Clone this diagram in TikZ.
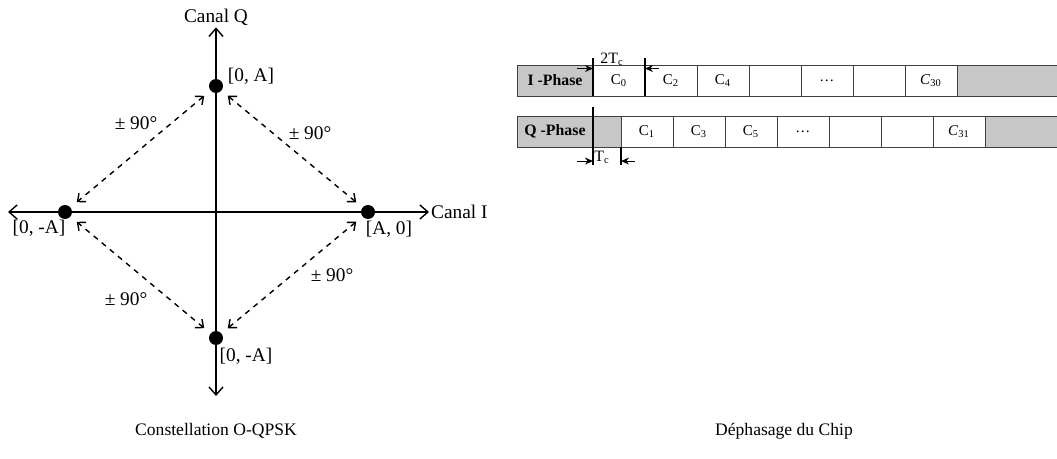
\documentclass[tikz,border=0pt]{standalone}
\usepackage{fontspec}
\setmainfont{Liberation Serif}
\usetikzlibrary{arrows.meta,positioning}

\begin{document}
\begin{tikzpicture}[x=0.02cm, y=-0.02cm,
    pt/.style={circle, fill=black, inner sep=0pt, minimum size=0.28cm},
    lbl/.style={font=\fontsize{11}{13}\selectfont, inner sep=1pt},
    caption/.style={font=\fontsize{10}{12}\selectfont},
    swing/.style={{Straight Barb[length=1.3mm, width=2.2mm]}-{Straight Barb[length=1.3mm, width=2.2mm]}, dashed, thick, shorten <=4.5pt, shorten >=4.5pt},
    axis/.style={{Straight Barb[length=1.6mm, width=2.8mm]}-{Straight Barb[length=1.6mm, width=2.8mm]}, thick},
    cell/.style={rectangle, draw=black!75, fill=white, minimum width=1.04cm, minimum height=0.62cm, inner sep=0pt, outer sep=0pt, font=\fontsize{8.5}{10}\selectfont, anchor=west},
    shade/.style={cell, fill=black!22},
    phase/.style={shade, minimum width=1.52cm, font=\bfseries\fontsize{9}{10}\selectfont},
    dim/.style={-{Stealth[length=1.6mm, width=1.4mm]}, semithick},
    tick/.style={thick},
    small/.style={font=\fontsize{9}{10}\selectfont, inner sep=0pt}]

    \useasboundingbox (0,0) rectangle (1057,459);

    % constellation
    \node[pt] (top) at (216,86) {};
    \node[pt] (right) at (368,212) {};
    \node[pt] (left) at (65,212) {};
    \node[pt] (bottom) at (216,338) {};

    \node[lbl] (canalq) at (216,17) {Canal Q};
    \node[lbl, anchor=west] (canali) at (429,212) {Canal I};
    \coordinate (qend) at (216,396);
    \coordinate (iend) at (8,212);
    \draw[axis] (qend) -- (canalq.south);
    \draw[axis] (iend) -- (canali.west);

    \node[lbl] (ltop) at (251,76) {[0, A]};
    \node[lbl] (lright) at (389,229) {[A, 0]};
    \node[lbl] (lleft) at (39,228) {[0, -A]};
    \node[lbl] (lbottom) at (246,356) {[0, -A]};

    \draw[swing] (top) -- (right);
    \draw[swing] (top) -- (left);
    \draw[swing] (bottom) -- (right);
    \draw[swing] (bottom) -- (left);

    \node[lbl] (a1) at (136,123) {± 90°};
    \node[lbl] (a2) at (310,133) {± 90°};
    \node[lbl] (a3) at (126,299) {± 90°};
    \node[lbl] (a4) at (332,275) {± 90°};

    \node[caption] (capl) at (216,431) {Constellation O-QPSK};

    % chips
    \node[phase] (iphase) at (517,80.5) {I -Phase};
    \node[cell, right=0pt of iphase] (c0) {C\textsubscript{0}};
    \node[cell, right=0pt of c0] (c2) {C\textsubscript{2}};
    \node[cell, right=0pt of c2] (c4) {C\textsubscript{4}};
    \node[cell, right=0pt of c4] (ie1) {};
    \node[cell, right=0pt of ie1] (idots) {\dots};
    \node[cell, right=0pt of idots] (ie2) {};
    \node[cell, right=0pt of ie2] (c30) {\textit{C}\textsubscript{30}};
    \node[shade, minimum width=2cm, right=0pt of c30] (itail) {};

    \node[phase] (qphase) at (517,131.5) {Q -Phase};
    \node[shade, minimum width=0.56cm, right=0pt of qphase] (qdelay) {};
    \node[cell, right=0pt of qdelay] (c1) {C\textsubscript{1}};
    \node[cell, right=0pt of c1] (c3) {C\textsubscript{3}};
    \node[cell, right=0pt of c3] (c5) {C\textsubscript{5}};
    \node[cell, right=0pt of c5] (qdots) {\dots};
    \node[cell, right=0pt of qdots] (qe1) {};
    \node[cell, right=0pt of qe1] (qe2) {};
    \node[cell, right=0pt of qe2] (c31) {\textit{C}\textsubscript{31}};
    \node[shade, minimum width=1.44cm, right=0pt of c31] (qtail) {};

    % 2Tc
    \draw[tick] ([yshift=4pt]c0.north west) -- (c0.south west);
    \draw[tick] ([yshift=4pt]c0.north east) -- (c0.south east);
    \draw[dim] ([xshift=-9pt, yshift=-2pt]c0.north west) -- ([yshift=-2pt]c0.north west);
    \draw[dim] ([xshift=8pt, yshift=-2pt]c0.north east) -- ([yshift=-2pt]c0.north east);
    \node[small] (twotc) at (612,59) {2T\textsubscript{c}};

    % Tc
    \draw[tick] ([yshift=5pt]qdelay.north west) -- ([yshift=-10pt]qdelay.south west);
    \draw[tick] (qdelay.south east) -- ([yshift=-10pt]qdelay.south east);
    \draw[dim] ([xshift=-9pt, yshift=-8pt]qdelay.south west) -- ([yshift=-8pt]qdelay.south west);
    \draw[dim] ([xshift=8pt, yshift=-8pt]qdelay.south east) -- ([yshift=-8pt]qdelay.south east);
    \node[small] (tc) at (602,157) {T\textsubscript{c}};

    \node[caption] (capr) at (784,431) {Déphasage du Chip};

\end{tikzpicture}
\end{document}
